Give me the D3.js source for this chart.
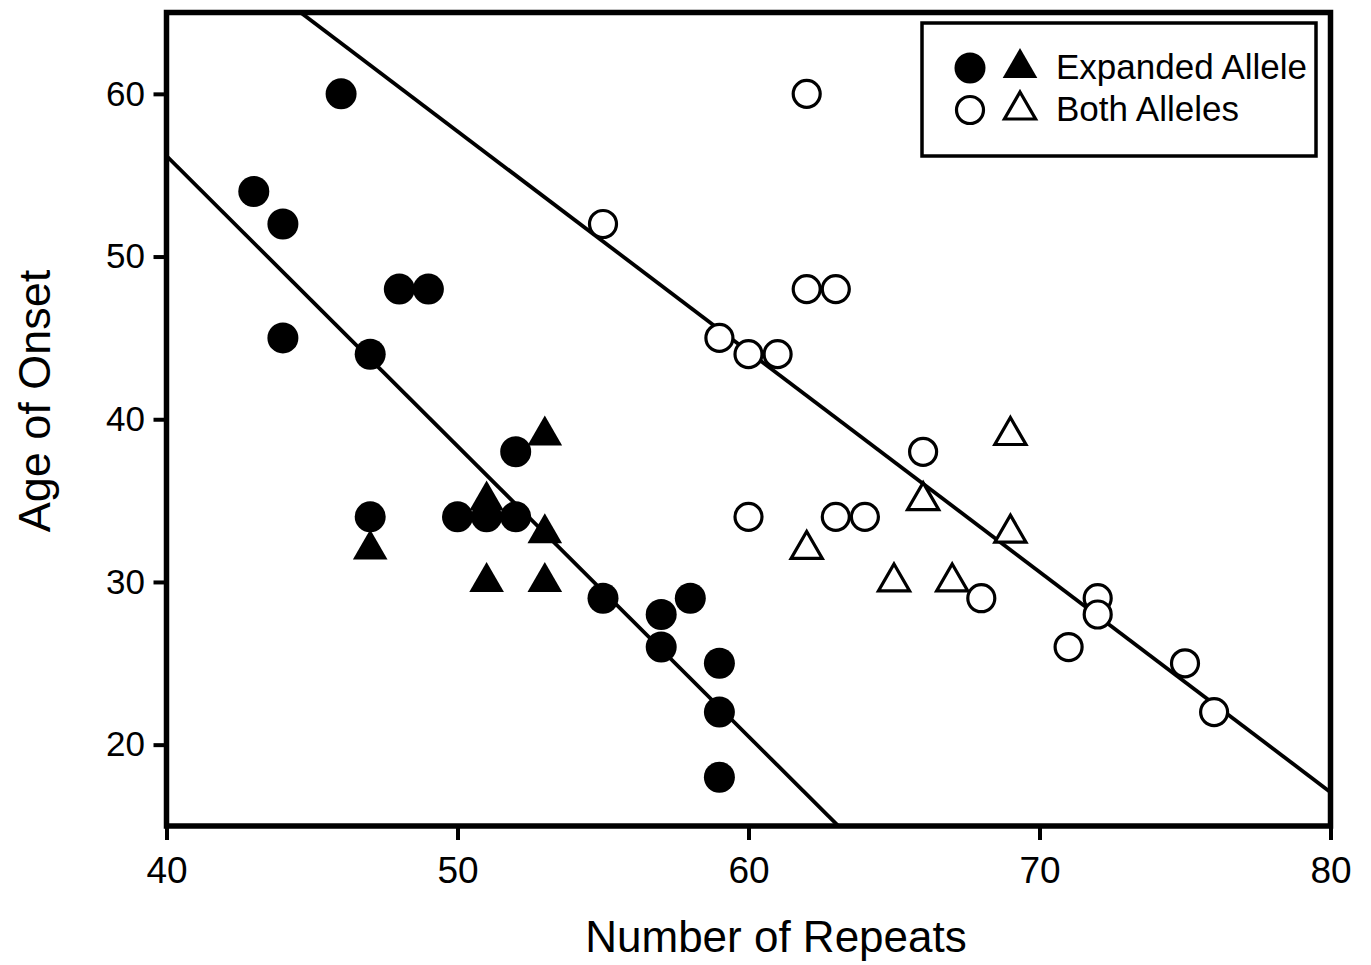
<!DOCTYPE html>
<html>
<head>
<meta charset="utf-8">
<script src="https://cdn.jsdelivr.net/npm/d3@7"></script>
<style>
  body { margin: 0; background: #fff; }
  svg text { font-family: "Liberation Sans", Arial, Helvetica, sans-serif; fill: #000; }
</style>
</head>
<body>
<svg id="plot"></svg>
<script>
// Expanded allele (filled symbols)
const expandedCircles = [
    [43, 54], [44, 52], [44, 45], [46, 60], [47, 44], [47, 34], [48, 48], [49, 48],
    [50, 34], [51, 34], [52, 34], [52, 38], [55, 29], [57, 28], [57, 26], [58, 29],
    [59, 25], [59, 22], [59, 18]
];
const expandedTriangles = [
    [47, 32], [51, 35], [51, 30], [53, 39], [53, 33], [53, 30]
];
// Both alleles (open symbols)
const bothCircles = [
    [62, 60], [55, 52], [62, 48], [63, 48], [59, 45], [60, 44], [61, 44], [66, 38],
    [60, 34], [63, 34], [64, 34], [68, 29], [72, 29], [72, 28], [71, 26], [75, 25], [76, 22]
];
const bothTriangles = [
    [62, 32], [65, 30], [66, 35], [67, 30], [69, 39], [69, 33]
];
// fitted lines: [slope, intercept]
const fitExpanded = [-1.784, 127.55];
const fitBoth = [-1.354, 125.4];

const xTicks = [40, 50, 60, 70, 80];
const yTicks = [20, 30, 40, 50, 60];
const legendItems = ["Expanded Allele", "Both Alleles"];

const width = 1371;
const height = 965;
const svg = d3.select("#plot").attr("width", width).attr("height", height);

const mLeft = 166.5, mRight = 1330.5, mTop = 12.5, mBottom = 826;

const xScale = d3.scaleLinear().domain([40, 80]).range([mLeft, mRight]);
const yScale = d3.scaleLinear().domain([15, 65]).range([mBottom, mTop]);

svg.append("clipPath").attr("id", "clip")
    .append("rect")
    .attr("x", mLeft).attr("y", mTop)
    .attr("width", mRight - mLeft).attr("height", mBottom - mTop);

// regression lines
const plot = svg.append("g").attr("clip-path", "url(#clip)");
[fitExpanded, fitBoth].forEach(([m, b]) => {
    plot.append("line")
        .attr("x1", xScale(30)).attr("y1", yScale(m * 30 + b))
        .attr("x2", xScale(90)).attr("y2", yScale(m * 90 + b))
        .attr("stroke", "#000")
        .attr("stroke-width", 3.8);
});

const circleR = 15.5;
const openR = 13.5;
const triFilled = d3.symbol().type(d3.symbolTriangle).size(520);
const triOpen = d3.symbol().type(d3.symbolTriangle).size(420);

// open symbols
svg.selectAll(".oc")
    .data(bothCircles)
    .enter()
    .append("circle")
    .attr("cx", (d) => xScale(d[0]))
    .attr("cy", (d) => yScale(d[1]))
    .attr("r", openR)
    .attr("fill", "#fff")
    .attr("stroke", "#000")
    .attr("stroke-width", 3.2);

svg.selectAll(".ot")
    .data(bothTriangles)
    .enter()
    .append("path")
    .attr("d", triOpen)
    .attr("transform", (d) => `translate(${xScale(d[0])},${yScale(d[1])})`)
    .attr("fill", "#fff")
    .attr("stroke", "#000")
    .attr("stroke-width", 3.2);

// filled symbols
svg.selectAll(".fc")
    .data(expandedCircles)
    .enter()
    .append("circle")
    .attr("cx", (d) => xScale(d[0]))
    .attr("cy", (d) => yScale(d[1]))
    .attr("r", circleR)
    .attr("fill", "#000");

svg.selectAll(".ft")
    .data(expandedTriangles)
    .enter()
    .append("path")
    .attr("d", triFilled)
    .attr("transform", (d) => `translate(${xScale(d[0])},${yScale(d[1])})`)
    .attr("fill", "#000");

// axes
const xAxis = svg.append("g")
    .attr("transform", `translate(0,${mBottom})`)
    .call(d3.axisBottom(xScale).tickValues(xTicks).tickSize(14).tickSizeOuter(0).tickPadding(17));
xAxis.select(".domain").remove();
xAxis.selectAll(".tick line").attr("stroke-width", 4);
xAxis.selectAll("text").attr("font-size", 37).attr("font-family", null);

const yAxis = svg.append("g")
    .attr("transform", `translate(${mLeft},0)`)
    .call(d3.axisLeft(yScale).tickValues(yTicks).tickSize(13).tickSizeOuter(0).tickPadding(8.5));
yAxis.select(".domain").remove();
yAxis.selectAll(".tick line").attr("stroke-width", 4);
yAxis.selectAll("text").attr("font-size", 35).attr("font-family", null);

// frame
svg.append("rect")
    .attr("x", mLeft).attr("y", mTop)
    .attr("width", mRight - mLeft).attr("height", mBottom - mTop)
    .attr("fill", "none")
    .attr("stroke", "#000")
    .attr("stroke-width", 5.5);

// axis titles
svg.append("text")
    .attr("x", 776)
    .attr("y", 952)
    .attr("text-anchor", "middle")
    .attr("font-size", 44)
    .text("Number of Repeats");

svg.append("text")
    .attr("transform", `translate(50,401) rotate(-90)`)
    .attr("text-anchor", "middle")
    .attr("font-size", 45)
    .text("Age of Onset");

// legend
const legend = svg.append("g");
legend.append("rect")
    .attr("x", 922).attr("y", 23)
    .attr("width", 394).attr("height", 133)
    .attr("fill", "#fff")
    .attr("stroke", "#000")
    .attr("stroke-width", 3.5);

const rows = legend.selectAll(".row")
    .data(legendItems)
    .enter()
    .append("g")
    .attr("transform", (d, i) => `translate(0,${68 + i * 42})`);

rows.append("circle")
    .attr("cx", 970).attr("cy", 0)
    .attr("r", (d, i) => (i === 0 ? circleR : openR))
    .attr("fill", (d, i) => (i === 0 ? "#000" : "#fff"))
    .attr("stroke", (d, i) => (i === 0 ? "none" : "#000"))
    .attr("stroke-width", 3.2);

rows.append("path")
    .attr("d", (d, i) => (i === 0 ? triFilled() : triOpen()))
    .attr("transform", "translate(1020,0)")
    .attr("fill", (d, i) => (i === 0 ? "#000" : "#fff"))
    .attr("stroke", (d, i) => (i === 0 ? "none" : "#000"))
    .attr("stroke-width", 3.2);

rows.append("text")
    .attr("x", 1056)
    .attr("y", 11)
    .attr("font-size", 35)
    .text((d) => d);
</script>
</body>
</html>
